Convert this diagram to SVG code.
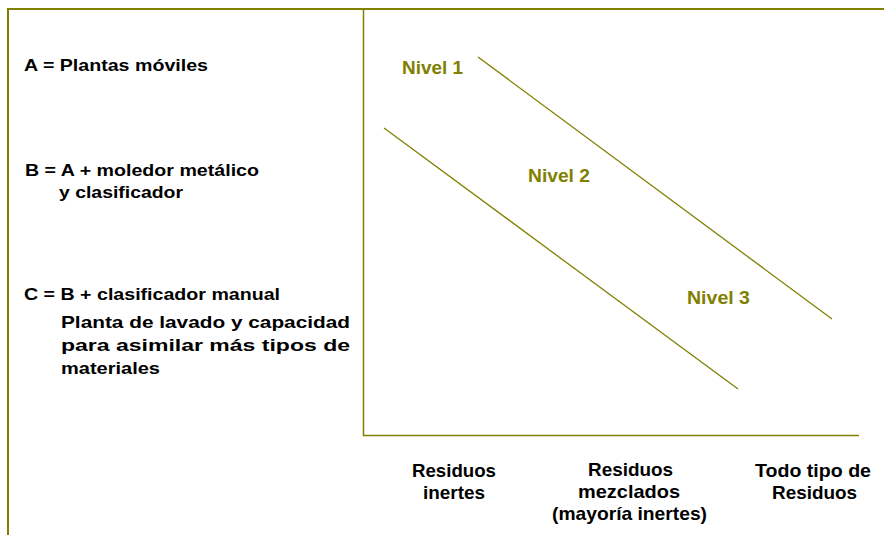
<svg xmlns="http://www.w3.org/2000/svg" width="884" height="535" viewBox="0 0 884 535">
<style>
.frame{stroke:#808000;stroke-width:2;fill:none}
.axis{stroke:#808000;stroke-width:1.5;fill:none}
.lvl{stroke:#808000;stroke-width:1.3;fill:none}
.t{font-family:"Liberation Sans",Arial,sans-serif;font-weight:bold;fill:#000}
.s{font-size:16.5px}
.b{font-size:19px}
.n{font-family:"Liberation Sans",Arial,sans-serif;font-weight:bold;font-size:18.5px;fill:#808000}
</style>
<rect width="884" height="535" fill="#fff"/>
<g id="frame">
<path class="frame" d="M8,535 V9 H884"/>
</g>
<g id="axes">
<path class="axis" d="M363.5,10 V435.5 H859"/>
</g>
<g id="legend">
<text class="t s" x="24" y="71" textLength="184" lengthAdjust="spacingAndGlyphs">A = Plantas móviles</text>
<text class="t s" x="25" y="176" textLength="234" lengthAdjust="spacingAndGlyphs">B = A + moledor metálico</text>
<text class="t s" x="59" y="198" textLength="124" lengthAdjust="spacingAndGlyphs">y clasificador</text>
<text class="t s" x="24" y="300" textLength="256" lengthAdjust="spacingAndGlyphs">C = B + clasificador manual</text>
<text class="t s" x="61" y="328" textLength="289" lengthAdjust="spacingAndGlyphs">Planta de lavado y capacidad</text>
<text class="t s" x="61" y="351" textLength="289" lengthAdjust="spacingAndGlyphs">para  asimilar  más tipos  de</text>
<text class="t s" x="61" y="374" textLength="99" lengthAdjust="spacingAndGlyphs">materiales</text>
</g>
<g id="connectors">
<line class="lvl" x1="478" y1="57" x2="832" y2="319"/>
<line class="lvl" x1="384" y1="128" x2="738" y2="389"/>
</g>
<g id="nivel1"><text class="n" x="402" y="74" textLength="61" lengthAdjust="spacingAndGlyphs">Nivel 1</text></g>
<g id="nivel2"><text class="n" x="528" y="182" textLength="62" lengthAdjust="spacingAndGlyphs">Nivel 2</text></g>
<g id="nivel3"><text class="n" x="687" y="304" textLength="63" lengthAdjust="spacingAndGlyphs">Nivel 3</text></g>
<g id="x-inertes">
<text class="t b" x="412" y="477" textLength="84" lengthAdjust="spacingAndGlyphs">Residuos</text>
<text class="t b" x="423" y="499" textLength="62" lengthAdjust="spacingAndGlyphs">inertes</text>
</g>
<g id="x-mezclados">
<text class="t b" x="588" y="476" textLength="85" lengthAdjust="spacingAndGlyphs">Residuos</text>
<text class="t b" x="578" y="498" textLength="102" lengthAdjust="spacingAndGlyphs">mezclados</text>
<text class="t b" x="552" y="520" textLength="155" lengthAdjust="spacingAndGlyphs">(mayoría inertes)</text>
</g>
<g id="x-todo">
<text class="t b" x="755" y="477" textLength="116" lengthAdjust="spacingAndGlyphs">Todo tipo de</text>
<text class="t b" x="772" y="499" textLength="85" lengthAdjust="spacingAndGlyphs">Residuos</text>
</g>
</svg>
